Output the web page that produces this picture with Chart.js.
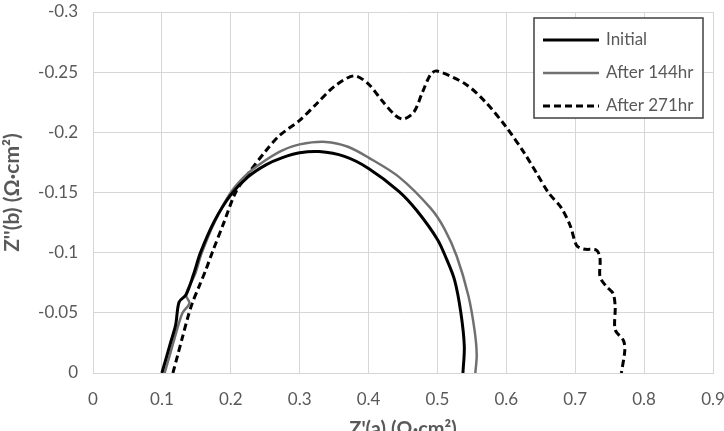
<!DOCTYPE html>
<html>
<head>
<meta charset="utf-8">
<title>Nyquist plot</title>
<script src="https://cdn.jsdelivr.net/npm/chart.js@4.4.1/dist/chart.umd.min.js"></script>
<style>
    html, body { margin: 0; padding: 0; background: #fff; overflow: hidden; }
    #wrap { position: relative; width: 724px; height: 442px; }
</style>
</head>
<body>
<div id="wrap"><canvas id="nyquistChart"></canvas></div>
<script>
// series labels
const seriesNames = ['Initial', 'After 144hr', 'After 271hr'];

// Initial
const initialX = [0.100, 0.106, 0.113, 0.120, 0.125, 0.135, 0.146, 0.156, 0.176, 0.200, 0.225, 0.251, 0.275, 0.300, 0.328, 0.365, 0.400, 0.444, 0.470, 0.500, 0.513, 0.525, 0.534, 0.539, 0.537];
const initialY = [0, -0.012, -0.026, -0.040, -0.059, -0.065, -0.082, -0.100, -0.126, -0.148, -0.163, -0.173, -0.179, -0.183, -0.184, -0.180, -0.170, -0.151, -0.135, -0.111, -0.095, -0.077, -0.050, -0.022, 0];

// After 144hr
const after144X = [0.104, 0.110, 0.117, 0.124, 0.130, 0.140, 0.135, 0.148, 0.158, 0.177, 0.200, 0.225, 0.251, 0.275, 0.300, 0.338, 0.370, 0.400, 0.444, 0.490, 0.510, 0.528, 0.545, 0.554, 0.557, 0.555];
const after144Y = [0, -0.012, -0.026, -0.040, -0.050, -0.058, -0.065, -0.082, -0.100, -0.126, -0.150, -0.166, -0.177, -0.185, -0.190, -0.192, -0.188, -0.179, -0.163, -0.137, -0.120, -0.097, -0.064, -0.035, -0.015, 0];

// After 271hr
const after271X = [0.116, 0.123, 0.130, 0.137, 0.144, 0.154, 0.164, 0.173, 0.190, 0.207, 0.227, 0.250, 0.270, 0.300, 0.325, 0.350, 0.379, 0.400, 0.420, 0.439, 0.451, 0.466, 0.478, 0.490, 0.499, 0.541, 0.570, 0.599, 0.627, 0.645, 0.661, 0.680, 0.693, 0.702, 0.712, 0.731, 0.736, 0.736, 0.745, 0.755, 0.758, 0.758, 0.770, 0.772, 0.767];
const after271Y = [0, -0.015, -0.030, -0.045, -0.058, -0.072, -0.086, -0.100, -0.125, -0.150, -0.167, -0.184, -0.197, -0.210, -0.224, -0.238, -0.247, -0.240, -0.226, -0.214, -0.211, -0.217, -0.233, -0.248, -0.251, -0.240, -0.225, -0.205, -0.182, -0.165, -0.150, -0.137, -0.122, -0.106, -0.103, -0.102, -0.095, -0.080, -0.072, -0.066, -0.055, -0.036, -0.027, -0.019, 0];

// axes
const xMin = 0, xMax = 0.9, xStep = 0.1;
const yMin = -0.3, yMax = 0, yStep = 0.05;

const gridColor = '#d6d6d6';
const textColor = '#595959';
const fontFamily = 'Lato, "Open Sans", sans-serif';

function toPoints(xs, ys) {
    return xs.map((x, i) => ({ x: x, y: ys[i] }));
}

function tickLabel(v) {
    return Number(v.toFixed(2)).toString();
}

// legend drawn inside the plot, top right
const boxLegend = {
    id: 'boxLegend',
    afterDraw(chart) {
        const ctx = chart.ctx;
        const area = chart.chartArea;
        const left = area.right - 179;
        const top = 18;
        ctx.save();
        ctx.fillStyle = '#fff';
        ctx.fillRect(left, top, 169, 100);
        ctx.strokeStyle = '#404040';
        ctx.lineWidth = 1.5;
        ctx.strokeRect(left, top, 169, 100);
        ctx.font = '17px ' + fontFamily;
        ctx.textBaseline = 'middle';
        chart.data.datasets.forEach((ds, i) => {
            const y = top + 22 + i * 33;
            ctx.beginPath();
            ctx.strokeStyle = ds.borderColor;
            ctx.lineWidth = ds.borderWidth;
            ctx.setLineDash(ds.borderDash || []);
            ctx.moveTo(left + 9, y);
            ctx.lineTo(left + 65, y);
            ctx.stroke();
            ctx.setLineDash([]);
            ctx.fillStyle = textColor;
            ctx.fillText(ds.label, left + 72, y);
        });
        ctx.restore();
    }
};

const ctx = document.getElementById('nyquistChart').getContext('2d');
new Chart(ctx, {
    type: 'scatter',
    data: {
        datasets: [
            {
                label: seriesNames[0],
                data: toPoints(initialX, initialY),
                showLine: true,
                borderColor: '#000',
                borderWidth: 3,
                pointRadius: 0,
                tension: 0.3
            },
            {
                label: seriesNames[1],
                data: toPoints(after144X, after144Y),
                showLine: true,
                borderColor: '#707070',
                borderWidth: 2.5,
                pointRadius: 0,
                tension: 0.3
            },
            {
                label: seriesNames[2],
                data: toPoints(after271X, after271Y),
                showLine: true,
                borderColor: '#000',
                borderWidth: 3,
                borderDash: [7, 4],
                pointRadius: 0,
                tension: 0.3
            }
        ]
    },
    options: {
        responsive: true,
        maintainAspectRatio: false,
        animation: false,
        layout: { padding: { top: 12, right: 11, bottom: 0, left: 0 } },
        plugins: {
            legend: { display: false },
            tooltip: { enabled: false }
        },
        scales: {
            x: {
                type: 'linear',
                min: xMin,
                max: xMax,
                afterFit: s => {
                    s.height = 69;
                    s.paddingLeft = 0;
                    s.paddingRight = 0;
                },
                ticks: {
                    stepSize: xStep,
                    color: textColor,
                    padding: 16,
                    maxRotation: 0,
                    font: { family: fontFamily, size: 17 },
                    callback: tickLabel
                },
                grid: { color: gridColor, drawTicks: false },
                border: { color: gridColor },
                title: {
                    display: true,
                    text: "Z'(a) (Ω·cm²)",
                    color: textColor,
                    padding: { top: 0, bottom: 0 },
                    font: { family: fontFamily, size: 20, weight: 'bold' }
                }
            },
            y: {
                type: 'linear',
                min: yMin,
                max: yMax,
                reverse: true,
                afterFit: s => {
                    s.width = 93;
                    s.paddingTop = 0;
                    s.paddingBottom = 0;
                },
                ticks: {
                    stepSize: yStep,
                    color: textColor,
                    padding: 15,
                    font: { family: fontFamily, size: 17 },
                    callback: tickLabel
                },
                grid: { color: gridColor, drawTicks: false },
                border: { color: gridColor },
                title: {
                    display: true,
                    text: "Z''(b) (Ω·cm²)",
                    color: textColor,
                    padding: { top: 0, bottom: 0 },
                    font: { family: fontFamily, size: 21, weight: 'bold' }
                }
            }
        }
    },
    plugins: [boxLegend]
});
</script>
</body>
</html>
